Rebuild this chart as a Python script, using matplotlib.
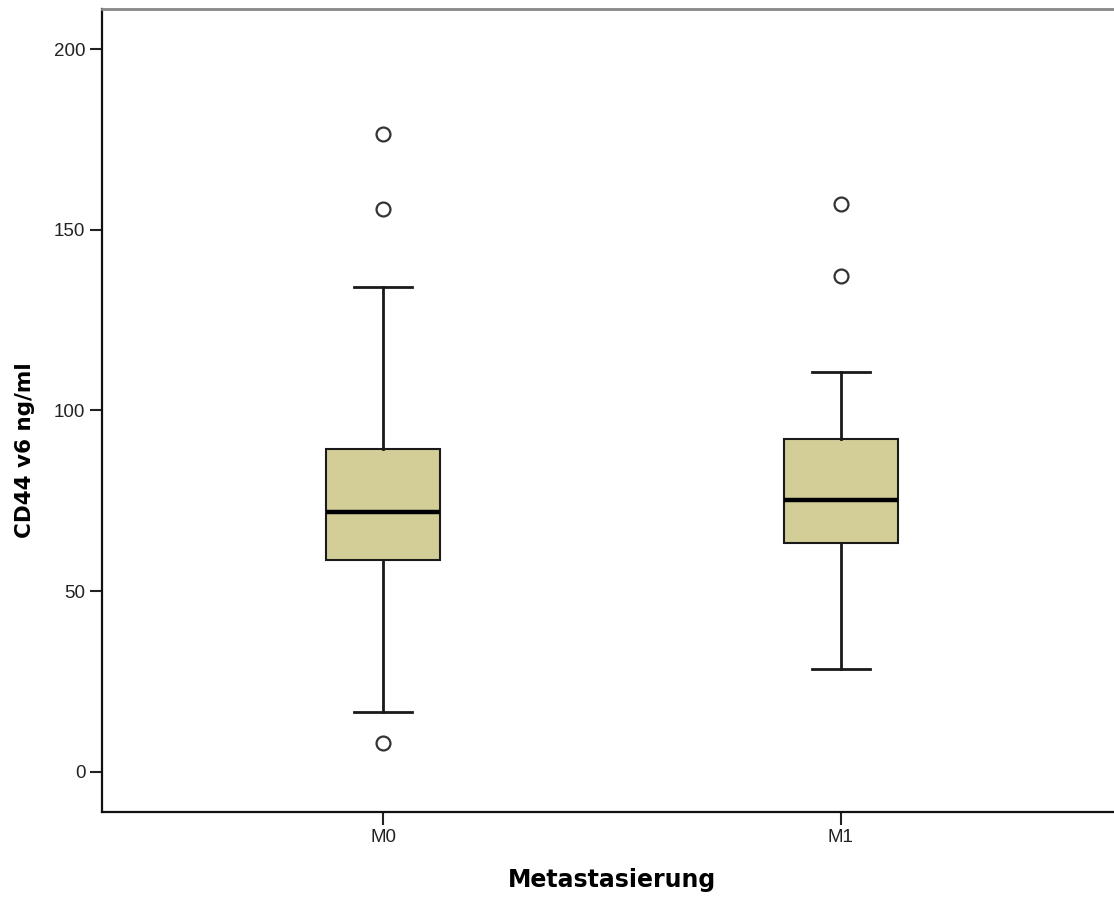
import matplotlib
matplotlib.use("Agg")
import matplotlib.pyplot as plt

# ---------- DATA ----------
groups = ["M0", "M1"]
whis_low = [16.6, 28.5]
q1 = [58.6, 63.3]
median = [71.9, 75.2]
q3 = [89.3, 92.1]
whis_high = [134.2, 110.6]
outliers = [[176.5, 155.7, 8.0], [157.1, 137.2]]
yticks = [0, 50, 100, 150, 200]

plt.rcParams['font.family'] = ['Liberation Sans', 'DejaVu Sans']

fig = plt.figure(figsize=(11.14, 8.97), dpi=100)
ax = fig.add_axes([0.0916, 0.0948, 0.9156, 0.8952])

stats = []
for i, g in enumerate(groups):
    stats.append(dict(label=g, whislo=whis_low[i], q1=q1[i], med=median[i],
                      q3=q3[i], whishi=whis_high[i], fliers=outliers[i]))

ax.bxp(stats, positions=[1, 2], widths=0.25, patch_artist=True,
       boxprops=dict(facecolor="#d3ce98", edgecolor="#1a1a1a", linewidth=1.5),
       medianprops=dict(color="black", linewidth=3.2),
       whiskerprops=dict(color="#1a1a1a", linewidth=2),
       capprops=dict(color="#1a1a1a", linewidth=2),
       capwidths=0.127,
       flierprops=dict(marker="o", markersize=10, markerfacecolor="white",
                       markeredgecolor="#333333", markeredgewidth=1.6))

ax.set_xlim(0.386, 2.614)
ax.set_ylim(-11.1, 211.1)
ax.set_yticks(yticks)
ax.set_xticks([1, 2])
ax.set_xticklabels(groups)

ax.tick_params(axis="both", length=9, width=1.5, labelsize=13.5, colors="#222222", pad=3)
for s in ["left", "bottom"]:
    ax.spines[s].set_linewidth(1.6)
    ax.spines[s].set_color("#111111")
ax.spines["top"].set_color("#888888")
ax.spines["top"].set_linewidth(2)
ax.spines["right"].set_visible(False)

ax.set_ylabel("CD44 v6 ng/ml", fontsize=15.5, fontweight="bold", family="DejaVu Sans")
ax.yaxis.set_label_coords(-0.0657, 0.451)
ax.set_xlabel("Metastasierung", fontsize=17, fontweight="bold", family="DejaVu Sans", labelpad=16)

fig.savefig("out.png", dpi=100)
